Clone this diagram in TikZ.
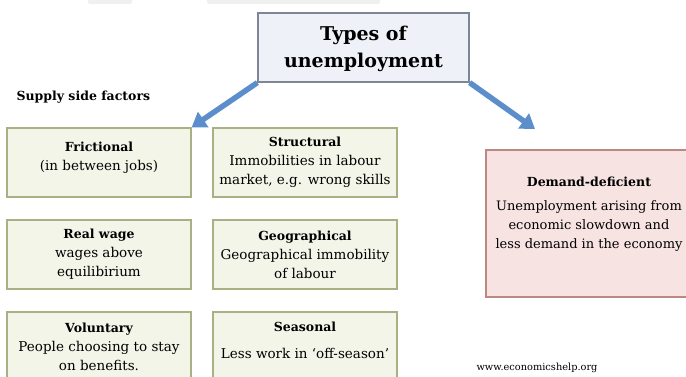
\documentclass[tikz,border=0pt]{standalone}
\usepackage{fontspec}
\setmainfont{DejaVu Serif}
\usetikzlibrary{arrows.meta}
\definecolor{factorfill}{HTML}{F4F5E9}\definecolor{factorline}{HTML}{A9B184}
\definecolor{typesfill}{HTML}{EEF2F8}\definecolor{typesline}{HTML}{7E8696}
\definecolor{demandfill}{HTML}{F6E3E2}\definecolor{demandline}{HTML}{BC8883}
\definecolor{arrowblue}{HTML}{5C8ECC}
\newcommand{\BoxFont}{\fontsize{13.5}{19}\selectfont}
\newcommand{\Head}[1]{{\fontsize{12.5}{19}\selectfont\bfseries #1}}
\tikzset{factor/.style={draw=factorline,fill=factorfill,line width=1.3pt,minimum width=184pt,minimum height=69pt,inner sep=2pt,align=center,font=\BoxFont}}
\tikzset{bigarrow/.style={draw=arrowblue,line width=5.5pt,-{Triangle[length=14pt,width=18pt]}}}
\begin{document}
\begin{tikzpicture}[x=1pt,y=-1pt]
\clip(0,0)rectangle(686,377);
\fill[black!6,rounded corners=2pt](88,-3)rectangle(132,4)(207,-3)rectangle(380,4);
% supply side boxes, two columns
\node(fric)[factor]at(99,162.5){\Head{Frictional}\\(in between jobs)\\[-6pt]};
\node(struc)[factor]at(305,162.5){\Head{Structural}\\Immobilities in labour\\market, e.g. wrong skills};
\node(real)[factor]at(99,254.5){\Head{Real wage}\\wages above\\equilibirium};
\node(geo)[factor]at(305,254.5){\Head{Geographical}\\Geographical immobility\\of labour};
\node(vol)[factor]at(99,346.5){\Head{Voluntary}\\People choosing to stay\\on benefits.};
\node(seas)[factor]at(305,346.5){\Head{Seasonal}\\[8pt]Less work in `off-season'\\[-7pt]};
\node(supply)[anchor=west,font=\fontsize{12.5}{14}\selectfont\bfseries]at(13,97){Supply side factors};
% demand side
\node(dem)[draw=demandline,fill=demandfill,line width=1.3pt,minimum width=206pt,minimum height=147pt,align=center,font=\fontsize{13}{19}\selectfont]at(589,223.5){\Head{Demand-deficient}\\[5pt]Unemployment arising from\\economic slowdown and\\less demand in the economy\\[3pt]};
\coordinate(dtip)at(535,129);
\node(types)[draw=typesline,fill=typesfill,line width=1.3pt,minimum width=211pt,minimum height=69pt,align=center,font=\fontsize{19}{27}\selectfont\bfseries]at(363.5,47.5){\rule{0pt}{18pt}Types of\\unemployment};
\draw[bigarrow](types.south west)--(fric.north east);
\draw[bigarrow](types.south east)--(dtip);
\node(web)[anchor=west,font=\fontsize{9.8}{11}\selectfont]at(473,368){www.economicshelp.org};
\end{tikzpicture}
\end{document}
